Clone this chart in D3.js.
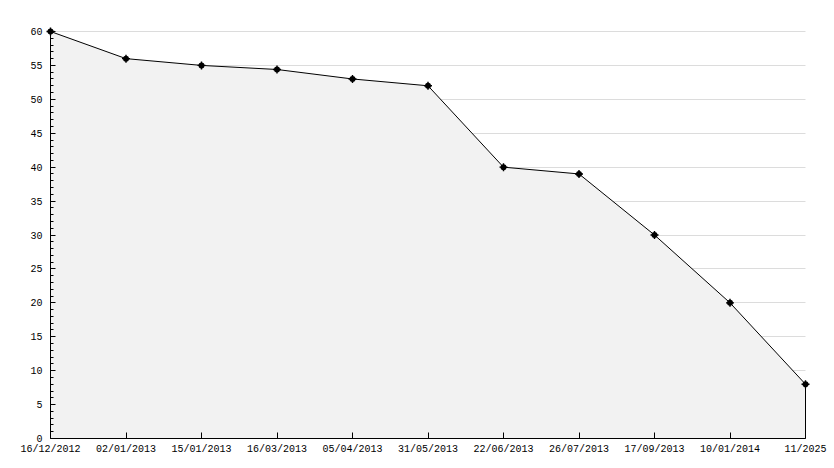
<!DOCTYPE html>
<html><head><meta charset="utf-8">
<script src="https://cdn.jsdelivr.net/npm/d3@7"></script>
<style>
html,body{margin:0;padding:0;background:#fff;}
svg text{font-family:"Liberation Mono","DejaVu Sans Mono",monospace;font-size:10px;fill:#000;}
</style></head>
<body>
<svg id="c" width="834" height="468"></svg>
<script>
const categories = ["16/12/2012","02/01/2013","15/01/2013","16/03/2013","05/04/2013","31/05/2013","22/06/2013","26/07/2013","17/09/2013","10/01/2014","11/2025"];
const values = [60, 56, 55, 54.4, 53, 52, 40, 39, 30, 20, 8];
const yTicks = [0,5,10,15,20,25,30,35,40,45,50,55,60];

(function(){
const svg = d3.select("#c");
const pL = 50.5, pR = 805.5, pT = 31.5, pB = 438.5;
const x = d3.scalePoint().domain(d3.range(categories.length)).range([pL, pR]);
const y = d3.scaleLinear().domain([0, 60]).range([pB, pT]);

// grid
svg.append("g").selectAll("line").data(yTicks.filter(d=>d>0)).join("line")
  .attr("x1", pL).attr("x2", pR)
  .attr("y1", d=>Math.round(y(d)-0.5)+0.5).attr("y2", d=>Math.round(y(d)-0.5)+0.5)
  .attr("stroke", "#dcdcdc").attr("stroke-width", 1);

// area
const area = d3.area().x((d,i)=>x(i)).y0(pB).y1(d=>y(d));
svg.append("path").datum(values).attr("d", area).attr("fill", "#f2f2f2").attr("stroke", "none");
// right edge line
svg.append("line").attr("x1", pR).attr("x2", pR).attr("y1", y(values[values.length-1])).attr("y2", pB)
  .attr("stroke", "#000");
// line
const line = d3.line().x((d,i)=>x(i)).y(d=>y(d));
svg.append("path").datum(values).attr("d", line).attr("fill", "none").attr("stroke", "#000").attr("stroke-width", 1);

// y axis
const ga = svg.append("g");
ga.append("line").attr("x1", pL).attr("x2", pL).attr("y1", pT).attr("y2", pB).attr("stroke", "#000");
ga.selectAll("line.t").data(d3.range(0, 61, 1)).join("line").attr("class","t")
  .attr("x1", pL).attr("x2", d=> d%5===0 ? pL+5 : pL+3)
  .attr("y1", d=>Math.round(y(d)-0.5)+0.5).attr("y2", d=>Math.round(y(d)-0.5)+0.5).attr("stroke", "#000");
ga.selectAll("text").data(yTicks).join("text")
  .attr("x", pL-8).attr("y", d=>y(d)+3.5).attr("text-anchor", "end").text(d=>d);

// x axis
const gx = svg.append("g");
gx.append("line").attr("x1", pL).attr("x2", pR).attr("y1", pB).attr("y2", pB).attr("stroke", "#000");
gx.selectAll("line.t").data(d3.range(categories.length)).join("line").attr("class","t")
  .attr("x1", i=>Math.round(x(i)-0.5)+0.5).attr("x2", i=>Math.round(x(i)-0.5)+0.5)
  .attr("y1", pB).attr("y2", pB-6).attr("stroke", "#000");
gx.selectAll("text").data(categories).join("text")
  .attr("x", (d,i)=>x(i)).attr("y", 452).attr("text-anchor", "middle").text(d=>d);

// markers
const mk = svg.append("g").selectAll("g").data(values).join("g")
  .attr("transform", (d,i)=>`translate(${x(i)},${y(d)})`);
mk.append("circle").attr("r", 3).attr("fill", "#000");
mk.append("path").attr("d", "M-4,0H4M0,-4V4").attr("stroke", "#000").attr("stroke-width", 1.4);
})();
</script>
</body></html>
